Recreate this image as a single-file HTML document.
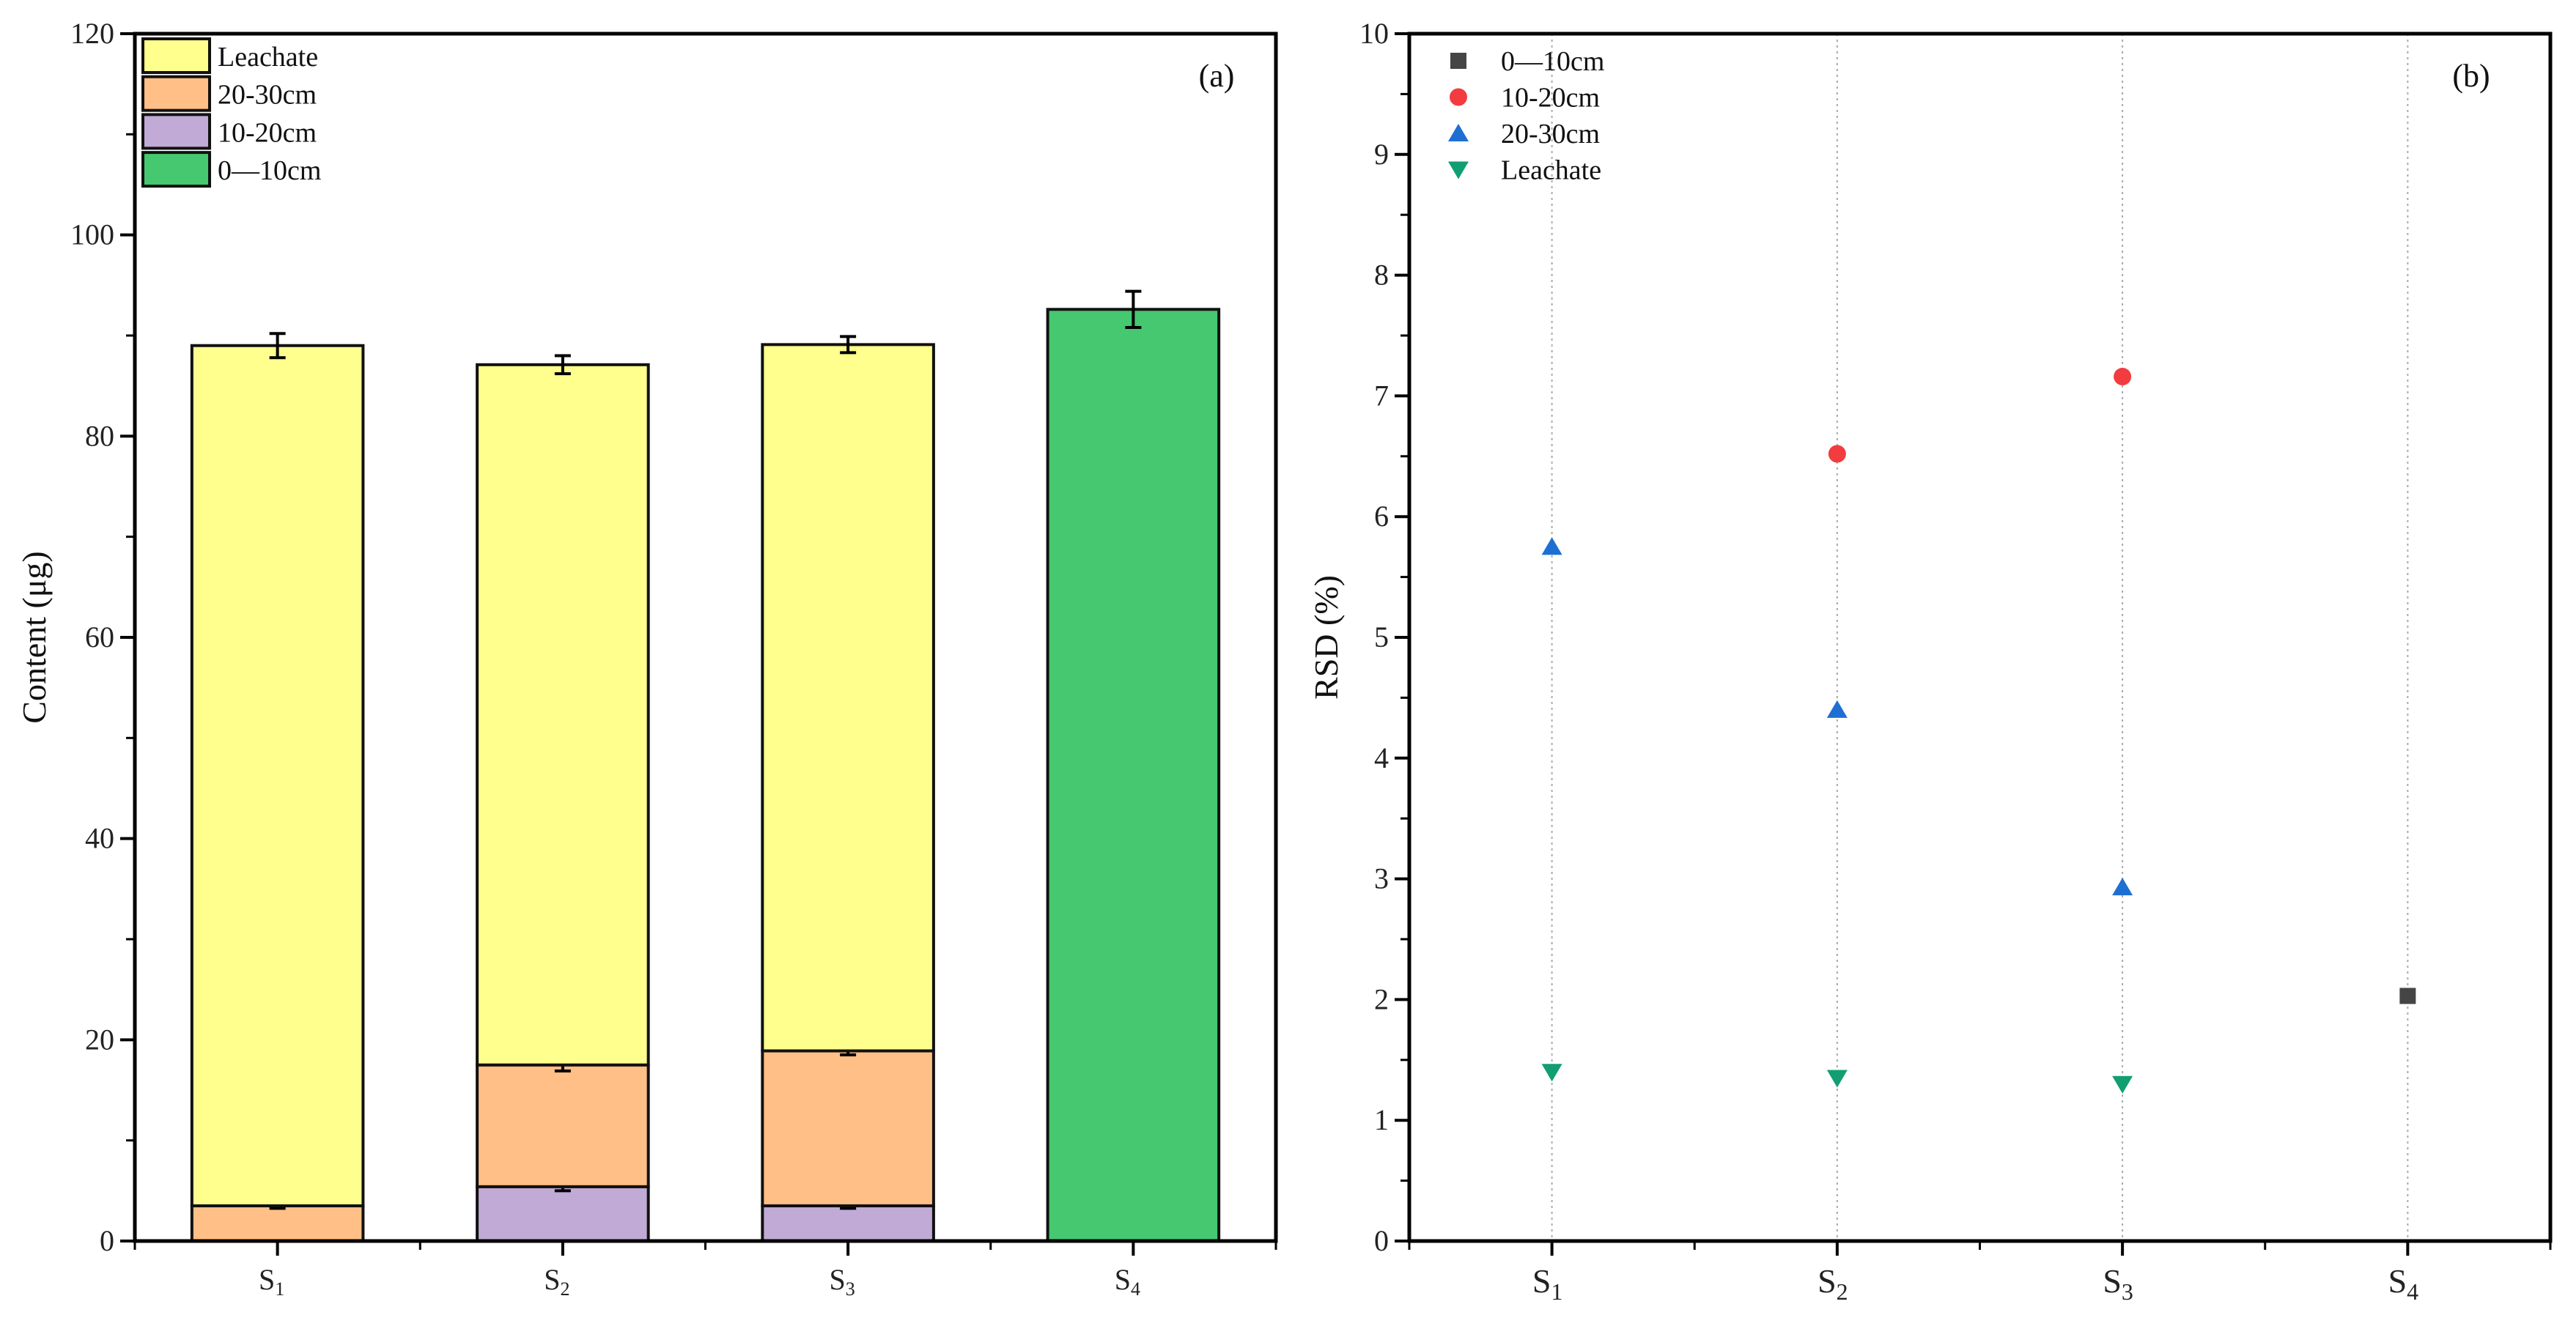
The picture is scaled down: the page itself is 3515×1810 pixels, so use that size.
<!DOCTYPE html>
<html><head><meta charset="utf-8"><style>
html,body{margin:0;padding:0;background:#fff;}
svg{display:block;font-family:"Liberation Serif",serif;}
</style></head><body>
<svg id="chart" width="3515" height="1810" viewBox="0 0 3515 1810" xmlns="http://www.w3.org/2000/svg"></svg>
<script>
const categories = ["1","2","3","4"];
const seg1020 = [0, 5.4, 3.5, 0];
const seg2030 = [3.5, 12.1, 15.4, 0];
const segLeach = [85.5, 69.6, 70.2, 0];
const seg010 = [0, 0, 0, 92.6];
const errTop = [1.2, 0.9, 0.8, 1.8];
const err2030 = [0.25, 0.6, 0.4, 0];
const err1020 = [0, 0.4, 0.25, 0];
const leftTicks = [0,20,40,60,80,100,120];
const rsd010 = [null, null, null, 2.03];
const rsd1020 = [null, 6.52, 7.16, null];
const rsd2030 = [5.75, 4.4, 2.93, null];
const rsdLeach = [1.4, 1.35, 1.3, null];
const rightTicks = [0,1,2,3,4,5,6,7,8,9,10];

const NS="http://www.w3.org/2000/svg";
const svg=document.getElementById('chart');
function mk(tag,attrs,parent,text){const e=document.createElementNS(NS,tag);for(const k in attrs)e.setAttribute(k,attrs[k]);if(text!==undefined)e.textContent=text;(parent||svg).appendChild(e);return e;}

const yTop=46,bot=1694;
// ---------- Panel A ----------
const aL=184,aR=1741;
const ay=v=>bot-(v/120)*(bot-yTop);
const step=(aR-aL)/categories.length;
const ax=i=>aL+step*(i+0.5);
const bw=step*0.6;
const gA=mk('g',{});

const stackDefs=[[seg010,'#45C870','seg-0-10cm'],[seg1020,'#C1AAD6','seg-10-20cm'],[seg2030,'#FFBF86','seg-20-30cm'],[segLeach,'#FFFF8E','seg-leachate']];
const errsByStack=[null,err1020,err2030,null];
function drawErr(g,x,v,e){
  const y1=ay(v+e),y2=ay(v-e);
  const p=mk('path',{d:`M${x},${y1}V${y2}M${x-11},${y1}H${x+11}M${x-11},${y2}H${x+11}`,stroke:'#000','stroke-width':4,fill:'none'},g);
  
  
}
categories.forEach((c,i)=>{
  let base=0;
  stackDefs.forEach((sd,k)=>{
    const v=sd[0][i]; if(!v) return;
    const r=mk('rect',{x:ax(i)-bw/2,y:ay(base+v),width:bw,height:ay(base)-ay(base+v),fill:sd[1],stroke:'#111','stroke-width':4},gA);
    
    
    base+=v;
    const er=errsByStack[k];
    if(er && er[i]){drawErr(gA,ax(i),base,er[i]);}
  });
  drawErr(gA,ax(i),base,errTop[i]);
});
const fa=mk('rect',{x:aL,y:yTop,width:aR-aL,height:bot-yTop,fill:'none',stroke:'#000','stroke-width':5},gA);

leftTicks.forEach(t=>{
  mk('line',{x1:aL-20,x2:aL,y1:ay(t),y2:ay(t),stroke:'#000','stroke-width':4},gA);
  const tx=mk('text',{x:aL-28,y:ay(t)+13,'font-size':40,'text-anchor':'end',fill:'#222'},gA,String(t));
  
  if(t<120) mk('line',{x1:aL-12,x2:aL,y1:ay(t+10),y2:ay(t+10),stroke:'#000','stroke-width':3},gA);
});
categories.forEach((c,i)=>{
  mk('line',{x1:ax(i),x2:ax(i),y1:bot,y2:bot+20,stroke:'#000','stroke-width':4},gA);
  mk('line',{x1:aL+step*i,x2:aL+step*i,y1:bot,y2:bot+12,stroke:'#000','stroke-width':3},gA);
  const t=mk('text',{x:ax(i)-8,y:bot+66,'font-size':40,'text-anchor':'middle',fill:'#222'},gA);
  
  mk('tspan',{},t,'S');mk('tspan',{'font-size':26,dy:8},t,c);
});
const yta=mk('text',{x:0,y:0,'font-size':46,'text-anchor':'middle',transform:'translate(62,870) rotate(-90)',fill:'#111'},gA,'Content (μg)');

const la=mk('text',{x:1660,y:118,'font-size':44,'text-anchor':'middle',fill:'#111'},gA,'(a)');

const legA=[['Leachate','#FFFF8E'],['20-30cm','#FFBF86'],['10-20cm','#C1AAD6'],['0—10cm','#45C870']];
legA.forEach((l,k)=>{
  const y=53+k*51.7;
  const r=mk('rect',{x:195,y:y,width:91,height:46,fill:l[1],stroke:'#111','stroke-width':4},gA);
  
  const t=mk('text',{x:297,y:y+37,'font-size':38,fill:'#111'},gA,l[0]);
  
});

// ---------- Panel B ----------
const bL=1923,bR=3480;
const by=v=>bot-(v/10)*(bot-yTop);
const bstep=(bR-bL)/categories.length;
const bx=i=>bL+bstep*(i+0.5);
const gB=mk('g',{});

categories.forEach((c,i)=>{
  mk('line',{x1:bx(i),x2:bx(i),y1:yTop,y2:bot,stroke:'#aaa','stroke-width':2,'stroke-dasharray':'3,5'},gB);
});
function marker(g,type,x,y,color){
  let e;
  if(type==='sq') e=mk('rect',{x:x-11,y:y-11,width:22,height:22,fill:color},g);
  else if(type==='ci') e=mk('circle',{cx:x,cy:y,r:12,fill:color},g);
  else if(type==='up') e=mk('path',{d:`M${x},${y-13}L${x+14},${y+11}L${x-14},${y+11}Z`,fill:color},g);
  else e=mk('path',{d:`M${x},${y+13}L${x+14},${y-11}L${x-14},${y-11}Z`,fill:color},g);
  return e;
}
const seriesB=[[rsd010,'sq','#454545','0—10cm'],[rsd1020,'ci','#F23C40','10-20cm'],[rsd2030,'up','#1E6FD2','20-30cm'],[rsdLeach,'dn','#119E72','Leachate']];
seriesB.forEach(s=>{
  s[0].forEach((v,i)=>{
    if(v===null) return;
    const m=marker(gB,s[1],bx(i),by(v),s[2]);
    
    
  });
});
const fb=mk('rect',{x:bL,y:yTop,width:bR-bL,height:bot-yTop,fill:'none',stroke:'#000','stroke-width':5},gB);

rightTicks.forEach(t=>{
  mk('line',{x1:bL-20,x2:bL,y1:by(t),y2:by(t),stroke:'#000','stroke-width':4},gB);
  const tx=mk('text',{x:bL-28,y:by(t)+13,'font-size':40,'text-anchor':'end',fill:'#222'},gB,String(t));
  
  if(t<10) mk('line',{x1:bL-12,x2:bL,y1:by(t+0.5),y2:by(t+0.5),stroke:'#000','stroke-width':3},gB);
});
categories.forEach((c,i)=>{
  mk('line',{x1:bx(i),x2:bx(i),y1:bot,y2:bot+20,stroke:'#000','stroke-width':4},gB);
  mk('line',{x1:bL+bstep*i,x2:bL+bstep*i,y1:bot,y2:bot+12,stroke:'#000','stroke-width':3},gB);
  const t=mk('text',{x:bx(i)-6,y:bot+70,'font-size':46,'text-anchor':'middle',fill:'#222'},gB);
  
  mk('tspan',{},t,'S');mk('tspan',{'font-size':32,dy:10},t,c);
});
mk('line',{x1:bR,x2:bR,y1:bot,y2:bot+12,stroke:'#000','stroke-width':3},gB);
mk('line',{x1:aR,x2:aR,y1:bot,y2:bot+12,stroke:'#000','stroke-width':3},gA);
const ytb=mk('text',{x:0,y:0,'font-size':46,'text-anchor':'middle',transform:'translate(1825,870) rotate(-90)',fill:'#111'},gB,'RSD (%)');

const lb=mk('text',{x:3372,y:118,'font-size':44,'text-anchor':'middle',fill:'#111'},gB,'(b)');

seriesB.forEach((s,k)=>{
  const y=83+k*49.5;
  const m=marker(gB,s[1],1990,y,s[2]);
  
  const t=mk('text',{x:2048,y:y+13,'font-size':38,fill:'#111'},gB,s[3]);
  
});
</script>
</body></html>
